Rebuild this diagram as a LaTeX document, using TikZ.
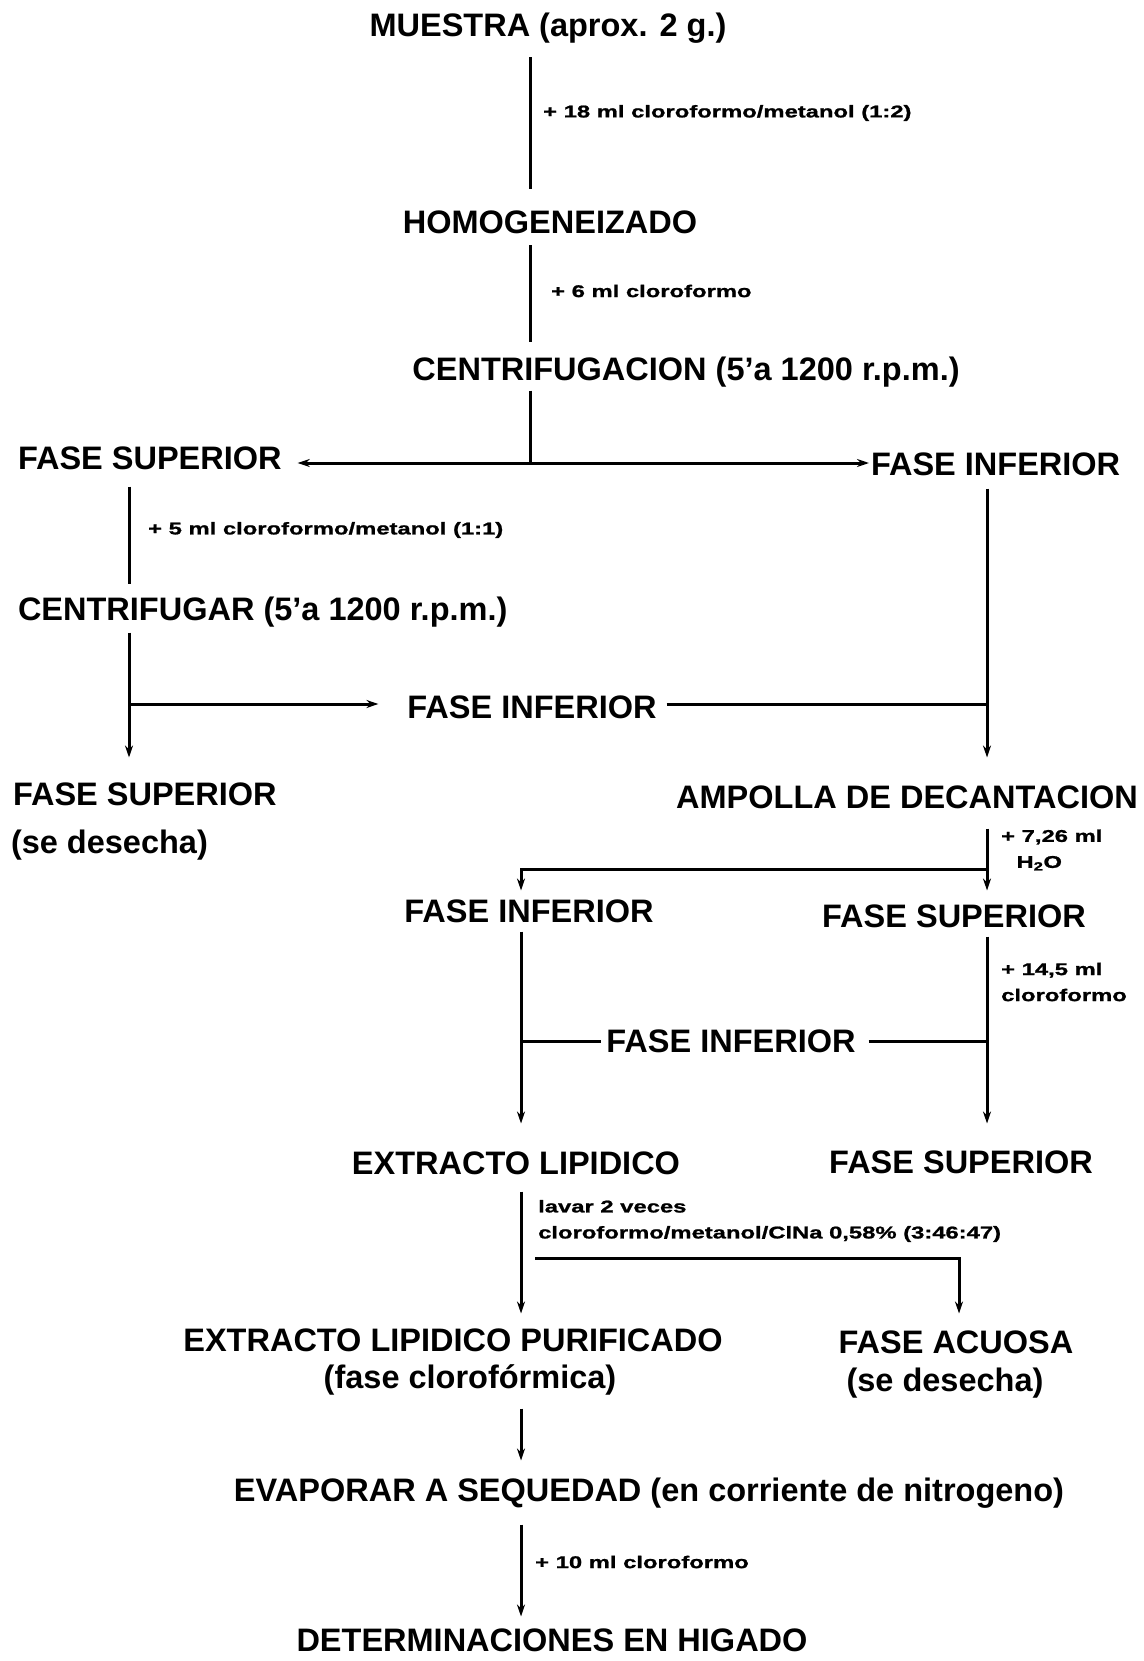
\documentclass[tikz,border=0pt]{standalone}
\usepackage{fontspec}
\setmainfont{Liberation Sans}
\newfontfamily\reagentfont[FakeStretch=1.4,FakeBold=1.2]{Liberation Sans}
\usetikzlibrary{arrows.meta}
\tikzset{
  phase/.style={font=\bfseries\fontsize{32.5}{36}\selectfont, inner sep=0pt, outer sep=0pt,
    text height=23pt, text depth=0pt},
  reagent/.style={font=\reagentfont\bfseries\fontsize{17}{26}\selectfont, inner sep=0pt,
    anchor=west, align=left},
  pipe/.style={line width=3pt},
  pipearrow/.style={line width=3pt, -{Stealth[length=12pt,width=8pt]}},
}
\begin{document}
\begin{tikzpicture}[x=1pt,y=-1pt]
      \useasboundingbox (0,0) rectangle (1143,1661);
      % stages
      \node[phase] (muestra) at (548,25) {MUESTRA (aprox. 2 g.)};
      \node[phase] (homog) at (550,222) {HOMOGENEIZADO};
      \node[phase] (centrif) at (686,369) {CENTRIFUGACION (5'a 1200 r.p.m.)};
      \node[phase,anchor=west] (supA) at (18,458) {FASE SUPERIOR};
      \node[phase,anchor=west] (infA) at (871,464) {FASE INFERIOR};
      \node[phase,anchor=west] (centrifB) at (18,609) {CENTRIFUGAR (5'a 1200 r.p.m.)};
      \node[phase] (infB) at (532,707) {FASE INFERIOR};
      \node[phase,anchor=west] (supB) at (13,794) {FASE SUPERIOR};
      \node[phase,anchor=west] (supBdes) at (11,842) {(se desecha)};
      \node[phase] (ampolla) at (907,797) {AMPOLLA DE DECANTACION};
      \node[phase] (infC) at (529,911) {FASE INFERIOR};
      \node[phase] (supC) at (954,916) {FASE SUPERIOR};
      \node[phase] (infD) at (731,1041) {FASE INFERIOR};
      \node[phase] (extracto) at (516,1163) {EXTRACTO LIPIDICO};
      \node[phase] (supD) at (961,1162) {FASE SUPERIOR};
      \node[phase] (purif) at (453,1340) {EXTRACTO LIPIDICO PURIFICADO};
      \node[phase] (purifB) at (470,1377) {(fase clorofórmica)};
      \node[phase] (acuosa) at (956,1342) {FASE ACUOSA};
      \node[phase] (acuosaB) at (945,1380) {(se desecha)};
      \node[phase] (evaporar) at (649,1490) {EVAPORAR A SEQUEDAD (en corriente de nitrogeno)};
      \node[phase] (determ) at (552,1640) {DETERMINACIONES EN HIGADO};
      % reagents
      \node[reagent] (addA) at (543,113) {+ 18 ml cloroformo/metanol (1:2)};
      \node[reagent] (addB) at (551,291) {+ 6 ml cloroformo};
      \node[reagent] (addC) at (148,530) {+ 5 ml cloroformo/metanol (1:1)};
      \node[reagent] (addD) at (1001,850) {+ 7,26 ml\\\hspace*{0.9em}H\textsubscript{2}O};
      \node[reagent] (addE) at (1001,982) {+ 14,5 ml\\cloroformo};
      \node[reagent] (addF) at (538,1221) {lavar 2 veces\\cloroformo/metanol/ClNa 0,58\% (3:46:47)};
      \node[reagent] (addG) at (535,1562) {+ 10 ml cloroformo};
      % junctions
      \coordinate (split) at (530,463);
      \coordinate (joinA) at (129,704);
      \coordinate (joinB) at (987,704);
      \coordinate (turnA) at (987,869);
      \coordinate (turnB) at (521,869);
      \coordinate (joinC) at (521,1041);
      \coordinate (joinD) at (987,1041);
      \coordinate (turnC) at (535,1258);
      \coordinate (turnD) at (959,1258);
      % connectors
      \draw[pipe, shorten <=21pt, shorten >=21pt] (muestra.south -| split) -- (homog.north -| split);
      \draw[pipe, shorten <=12pt, shorten >=16pt] (homog.south -| split) -- (centrif.north -| split);
      \draw[pipe, shorten <=10pt] (centrif.south -| split) -- (split);
      \draw[pipearrow, shorten >=16pt] (split) -- (split -| supA.east);
      \draw[pipearrow, shorten >=2pt] (split) -- (split -| infA.west);
      \draw[pipe, shorten <=17pt, shorten >=14pt] (supA.south -| joinA) -- (centrifB.north -| joinA);
      \draw[pipearrow, shorten <=12pt, shorten >=25pt] (centrifB.south -| joinA) -- (supB.north -| joinA);
      \draw[pipearrow, shorten >=29pt] (joinA) -- (joinA -| infB.west);
      \draw[pipe, shorten <=10pt] (joinB -| infB.east) -- (joinB);
      \draw[pipearrow, shorten <=13pt, shorten >=28pt] (infA.south -| joinB) -- (ampolla.north -| joinB);
      \draw[pipearrow, shorten <=20pt, shorten >=14pt] (ampolla.south -| turnA) -- (supC.north -| turnA);
      \draw[pipearrow, shorten >=9pt] (turnA) -- (turnB) -- (infC.north -| turnB);
      \draw[pipearrow, shorten <=9pt, shorten >=28pt] (infC.south -| turnB) -- (extracto.north -| turnB);
      \draw[pipearrow, shorten <=9pt, shorten >=27pt] (supC.south -| turnA) -- (supD.north -| turnA);
      \draw[pipe, shorten >=5pt] (joinC) -- (joinC -| infD.west);
      \draw[pipe, shorten <=13pt] (joinD -| infD.east) -- (joinD);
      \draw[pipearrow, shorten <=17pt, shorten >=15pt] (extracto.south -| turnB) -- (purif.north -| turnB);
      \draw[pipearrow, shorten >=17pt] (turnC) -- (turnD) -- (acuosa.north -| turnD);
      \draw[pipearrow, shorten <=20pt, shorten >=18pt] (purifB.south -| turnB) -- (evaporar.north -| turnB);
      \draw[pipearrow, shorten <=23pt, shorten >=12pt] (evaporar.south -| turnB) -- (determ.north -| turnB);
    \end{tikzpicture}
\end{document}
